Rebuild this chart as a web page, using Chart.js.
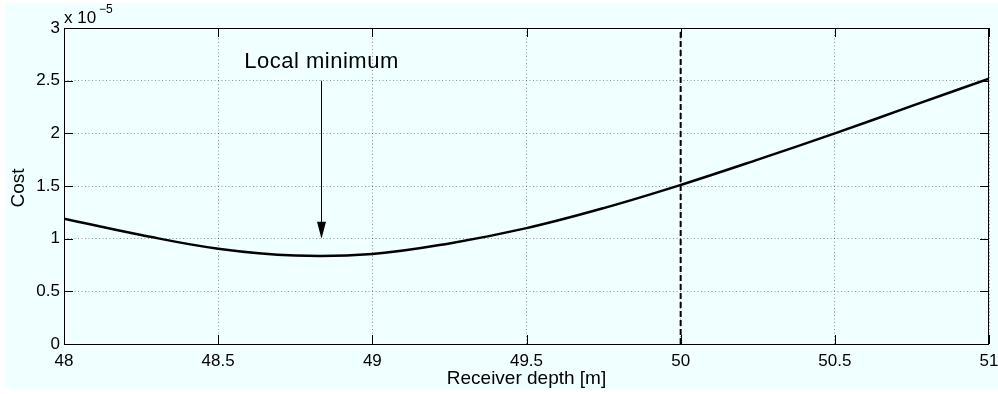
<!DOCTYPE html>
<html>
<head>
<meta charset="utf-8">
<script src="https://cdn.jsdelivr.net/npm/chart.js@4/dist/chart.umd.min.js"></script>
<style>
html,body{margin:0;padding:0;background:#fff}
#wrap{width:998px;height:394px}
</style>
</head>
<body>
<div id="wrap"><canvas id="chart" width="998" height="394"></canvas></div>
<script>
// receiver depth [m] and cost (in units of 1e-5)
const depth=[48,48.25,48.5,48.75,49,49.25,49.5,49.75,50,50.25,50.5,50.75,51];
const cost=[1.19,1.035,0.905,0.84,0.855,0.955,1.10,1.29,1.51,1.75,2.00,2.26,2.52];
const depthRange=[48,51];
const costRange=[0,3];
const trueDepth=50;
// annotation, in data units
const minArrow={x:48.835,from:2.5,to:1.0,textY:2.62,text:'Local minimum'};

const FONT='"Liberation Sans", Arial, Helvetica, sans-serif';
const fmt=v=>String(+(+v).toFixed(2));

const deco={
  id:'deco',
  beforeDraw(c){
    const g=c.ctx;
    g.save();
    g.fillStyle='#fff';g.fillRect(0,0,c.width,c.height);
    g.fillStyle='#f0ffff';g.fillRect(6,3,c.width-6,386);
    g.restore();
  },
  afterDraw(c){
    const g=c.ctx,a=c.chartArea,xs=c.scales.x,ys=c.scales.y;
    const L=Math.round(a.left),R=Math.round(a.right),T=Math.round(a.top),B=Math.round(a.bottom);
    g.save();
    g.strokeStyle='#000';g.lineWidth=1;g.setLineDash([]);
    g.strokeRect(L+.5,T+.5,R-L-1,B-T);
    // inward ticks on all four sides
    g.beginPath();
    xs.ticks.forEach(t=>{const p=Math.round(xs.getPixelForValue(t.value))+.5;
      g.moveTo(p,B);g.lineTo(p,B-9);g.moveTo(p,T);g.lineTo(p,T+9);});
    ys.ticks.forEach(t=>{const p=Math.round(ys.getPixelForValue(t.value))+.5;
      g.moveTo(L,p);g.lineTo(L+9,p);g.moveTo(R,p);g.lineTo(R-9,p);});
    g.stroke();
    // axis titles
    g.fillStyle='#000';
    g.font='19px '+FONT;g.textAlign='center';g.textBaseline='middle';
    g.fillText('Receiver depth [m]',(a.left+a.right)/2,379);
    g.save();g.translate(19,(a.top+a.bottom)/2+2);g.rotate(-Math.PI/2);
    g.fillText('Cost',0,0);g.restore();
    // exponent
    g.textAlign='left';g.textBaseline='alphabetic';
    g.font='17px '+FONT;g.fillText('x 10',L,23);
    g.font='12px '+FONT;g.fillText('\u22125',L+35,13);
    // annotation arrow
    const ax=Math.round(xs.getPixelForValue(minArrow.x))+.5;
    const y0=ys.getPixelForValue(minArrow.from),y1=ys.getPixelForValue(minArrow.to);
    g.beginPath();g.moveTo(ax,y0);g.lineTo(ax,y1-14);g.stroke();
    g.beginPath();g.moveTo(ax,y1);g.lineTo(ax-4.5,y1-17);g.lineTo(ax+4.5,y1-17);g.closePath();g.fill();
    g.font='22px '+FONT;g.textAlign='center';
    if('letterSpacing' in g) g.letterSpacing='0.5px';
    g.fillText(minArrow.text,ax,ys.getPixelForValue(minArrow.textY));
    g.restore();
  }
};

new Chart(document.getElementById('chart'),{
  type:'scatter',
  data:{datasets:[
    {data:depth.map((d,i)=>({x:d,y:cost[i]})),showLine:true,borderColor:'#000',borderWidth:2.5,
     pointRadius:0,tension:0.4,fill:false},
    {data:[{x:trueDepth,y:costRange[0]},{x:trueDepth,y:costRange[1]}],showLine:true,borderColor:'#000',
     borderWidth:2,borderDash:[6,3],pointRadius:0,fill:false}
  ]},
  options:{
    responsive:false,animation:false,devicePixelRatio:1,
    layout:{padding:{left:0,right:9,top:28,bottom:0}},
    plugins:{legend:{display:false},tooltip:{enabled:false}},
    scales:{
      x:{type:'linear',min:depthRange[0],max:depthRange[1],
        ticks:{stepSize:0.5,color:'#000',font:{family:FONT,size:17},padding:7,maxRotation:0,autoSkip:false,callback:fmt},
        grid:{color:'rgba(0,0,0,0.42)',lineWidth:1,drawTicks:false},
        border:{display:false,dash:[1,2.5]},
        afterFit(s){s.height=50;s.paddingLeft=0;s.paddingRight=0;}},
      y:{type:'linear',min:costRange[0],max:costRange[1],
        ticks:{stepSize:0.5,color:'#000',font:{family:FONT,size:17},padding:4,callback:fmt},
        grid:{color:'rgba(0,0,0,0.42)',lineWidth:1,drawTicks:false},
        border:{display:false,dash:[1,2.5]},
        afterFit(s){s.width=64;s.paddingTop=0;s.paddingBottom=0;}}
    }
  },
  plugins:[deco]
});
</script>
</body>
</html>
